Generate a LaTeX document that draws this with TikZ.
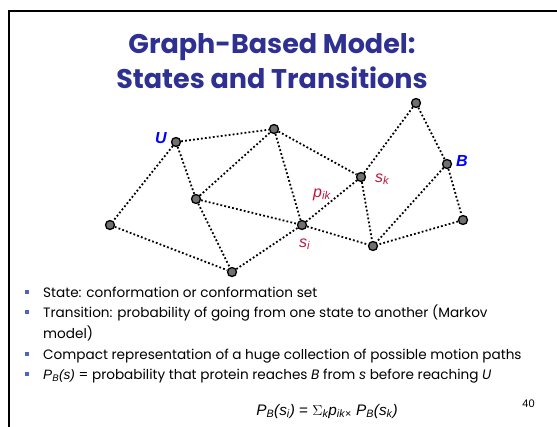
\documentclass[tikz,border=0pt]{standalone}
\usepackage{fontspec}
\setmainfont{Poppins}
\newfontfamily\arialfont{Liberation Sans}
\definecolor{titleblue}{RGB}{46,49,146}
\definecolor{labred}{RGB}{190,20,60}
\definecolor{bulblue}{RGB}{80,100,190}
\definecolor{nodegray}{RGB}{112,112,112}
\begin{document}
\begin{tikzpicture}[x=1pt,y=-1pt,
  st/.style={circle,fill=nodegray,draw=black,line width=1.3pt,minimum size=9pt,inner sep=0pt},
  edge/.style={line width=1.8pt,dash pattern=on 1.8pt off 2.2pt},
  title/.style={font=\fontsize{27}{30}\selectfont\bfseries,text=titleblue,inner sep=0pt},
  body/.style={font=\fontsize{13.6}{15}\selectfont,anchor=base west,inner sep=0pt},
  bul/.style={fill=bulblue,minimum size=4pt,inner sep=0pt},
  lab/.style={font=\arialfont\itshape\fontsize{16}{18}\selectfont,text=labred,anchor=base west,inner sep=0pt},
  ub/.style={font=\arialfont\bfseries\itshape\fontsize{16}{18}\selectfont,text=blue,inner sep=0pt}]
\useasboundingbox (0,0) rectangle (557,426);
\fill[white] (0,0) rectangle (557,426);
\draw[line width=2pt] (8.5,430) -- (8.5,11.2) -- (560,11.2);
% title
\node[title,anchor=base] (t1) at (272,53) {Graph-Based Model:};
\node[title,anchor=base] (t2) at (272,88) {States and Transitions};
% states
\node[st] (U) at (176,142) {};
\node[st] (tm) at (274,129) {};
\node[st] (tr) at (416,103) {};
\node[st] (B) at (447,164) {};
\node[st] (sk) at (361,177) {};
\node[st] (lm) at (196,199) {};
\node[st] (si) at (302,225) {};
\node[st] (fl) at (110,225) {};
\node[st] (r) at (463,220) {};
\node[st] (br) at (373,246) {};
\node[st] (bo) at (232,272) {};
% edges
\draw[edge] (U) -- (tm);
\draw[edge] (U) -- (fl);
\draw[edge] (U) -- (lm);
\draw[edge] (fl) -- (bo);
\draw[edge] (lm) -- (bo);
\draw[edge] (lm) -- (tm);
\draw[edge] (lm) -- (si);
\draw[edge] (tm) -- (si);
\draw[edge] (tm) -- (sk);
\draw[edge] (bo) -- (si);
\draw[edge] (si) -- (sk);
\draw[edge] (si) -- (br);
\draw[edge] (sk) -- (br);
\draw[edge] (sk) -- (tr);
\draw[edge] (tr) -- (B);
\draw[edge] (B) -- (br);
\draw[edge] (B) -- (r);
\draw[edge] (r) -- (br);
% labels
\node[ub] (lU) at (161,138) {U};
\node[ub] (lB) at (462,161) {B};
\node[lab] (lsk) at (375,182) {s\textsubscript{k}};
\node[lab] (lpik) at (313,197) {p\textsubscript{ik}};
\node[lab] (lsi) at (299,247) {s\textsubscript{i}};
% bullets
\node[bul] (b1) at (26.5,292) {};
\node[bul] (b2) at (26.5,312) {};
\node[bul] (b3) at (26.5,354) {};
\node[bul] (b4) at (26.5,374) {};
\node[body] (x1) at (43,297) {State: conformation or conformation set};
\node[body] (x2) at (43,317) {Transition: probability of going from one state to another (Markov};
\node[body] (x2b) at (43,338) {model)};
\node[body] (x3) at (43,359) {Compact representation of a huge collection of possible motion paths};
\node[body] (x4) at (43,379) {{\arialfont\itshape P\textsubscript{B}(s)} = probability that protein reaches \textit{B} from \textit{s} before reaching \textit{U}};
% formula
\node[font=\arialfont\fontsize{15.3}{18}\selectfont,anchor=base,inner sep=0pt] (f) at (327,415)
  {\itshape P\textsubscript{B}(s\textsubscript{i})\upshape{} = \(\Sigma\)\textsubscript{\itshape k}\itshape p\textsubscript{ik}\upshape\textsubscript{×} \itshape P\textsubscript{B}(s\textsubscript{k})};
\node[font=\arialfont\fontsize{11}{12}\selectfont,anchor=base,inner sep=0pt] (pg) at (528.5,407) {40};
\end{tikzpicture}
\end{document}
